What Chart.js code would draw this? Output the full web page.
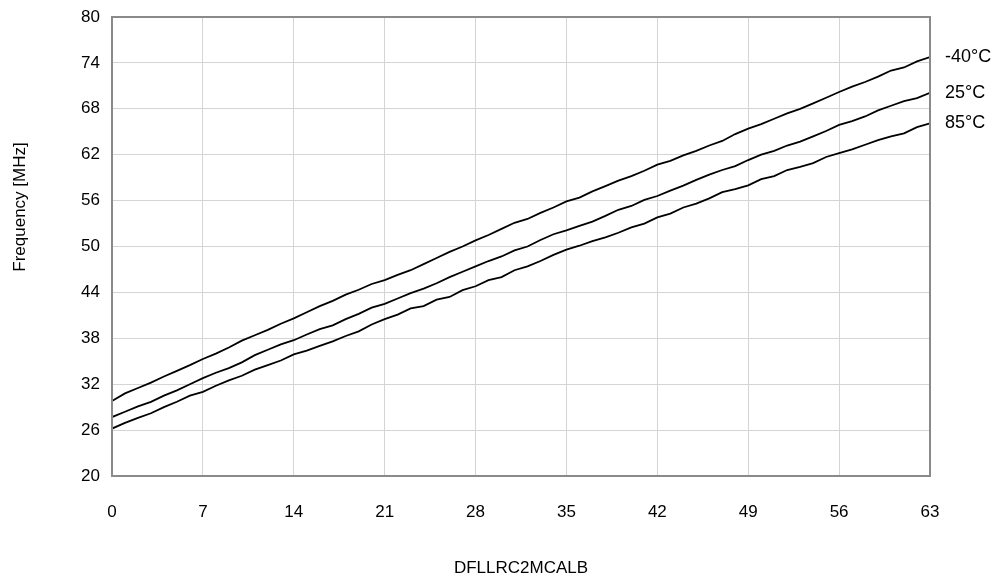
<!DOCTYPE html>
<html>
<head>
<meta charset="utf-8">
<script src="https://cdn.jsdelivr.net/npm/chart.js@4/dist/chart.umd.min.js"></script>
<style>
  html, body { margin: 0; padding: 0; background: #fff; }
  #wrap { width: 999px; height: 582px; }
</style>
</head>
<body>
<div id="wrap"><canvas id="myChart" width="999" height="582"></canvas></div>
<script>
// setup
const codes = [];
for (let i = 0; i <= 63; i++) codes.push(i);

const seriesNames = ["-40°C", "25°C", "85°C"];

const minus40 = [29.8, 30.8, 31.5, 32.2, 33.0, 33.75, 34.5, 35.3, 36.0, 36.8,
  37.7, 38.4, 39.1, 39.9, 40.6, 41.4, 42.2, 42.9, 43.7, 44.35,
  45.1, 45.6, 46.3, 46.9, 47.7, 48.5, 49.3, 50.0, 50.8, 51.5,
  52.3, 53.1, 53.6, 54.4, 55.1, 55.9, 56.4, 57.2, 57.9, 58.6,
  59.2, 59.9, 60.7, 61.2, 61.9, 62.5, 63.2, 63.8, 64.7, 65.4,
  66.0, 66.7, 67.4, 68.0, 68.7, 69.45, 70.2, 70.9, 71.5, 72.2,
  73.0, 73.4, 74.2, 74.75];

const plus25 = [27.7, 28.4, 29.1, 29.7, 30.5, 31.2, 32.0, 32.8, 33.5, 34.1,
  34.85, 35.8, 36.5, 37.2, 37.75, 38.5, 39.2, 39.7, 40.5, 41.2,
  42.0, 42.5, 43.2, 43.9, 44.5, 45.2, 46.0, 46.7, 47.4, 48.1,
  48.7, 49.5, 50.0, 50.85, 51.6, 52.1, 52.7, 53.25, 54.0, 54.8,
  55.3, 56.1, 56.6, 57.3, 57.95, 58.7, 59.4, 60.0, 60.5, 61.3,
  62.0, 62.5, 63.2, 63.7, 64.4, 65.1, 65.9, 66.4, 67.0, 67.8,
  68.4, 69.0, 69.4, 70.1];

const plus85 = [26.2, 26.95, 27.6, 28.2, 29.0, 29.7, 30.5, 31.0, 31.8, 32.5,
  33.1, 33.9, 34.5, 35.1, 35.9, 36.4, 37.0, 37.6, 38.3, 38.9,
  39.8, 40.5, 41.1, 41.9, 42.2, 43.05, 43.4, 44.3, 44.8, 45.6,
  46.0, 46.9, 47.4, 48.1, 48.9, 49.6, 50.1, 50.7, 51.2, 51.8,
  52.5, 53.0, 53.8, 54.3, 55.1, 55.6, 56.3, 57.1, 57.5, 58.0,
  58.8, 59.2, 60.0, 60.4, 60.9, 61.7, 62.2, 62.7, 63.3, 63.9,
  64.4, 64.8, 65.6, 66.1];

const yTicks = [20, 26, 32, 38, 44, 50, 56, 62, 68, 74, 80];
const xTicks = [0, 7, 14, 21, 28, 35, 42, 49, 56, 63];

const FONT = "'Liberation Sans', Arial, sans-serif";

const toPoints = (vals) => vals.map((v, i) => ({ x: codes[i], y: v }));

const data = {
  datasets: [minus40, plus25, plus85].map((vals, k) => ({
    label: seriesNames[k],
    data: toPoints(vals),
    borderColor: "#000",
    borderWidth: 1.8,
    pointRadius: 0,
    tension: 0,
  })),
};

// frame, end labels and axis titles
const decor = {
  id: "decor",
  afterDraw(chart) {
    const { ctx, chartArea: a } = chart;
    ctx.save();
    ctx.strokeStyle = "#8a8a8a";
    ctx.lineWidth = 2;
    ctx.strokeRect(a.left, a.top, a.right - a.left, a.bottom - a.top);

    ctx.fillStyle = "#000";
    ctx.font = "18px " + FONT;
    ctx.textBaseline = "middle";
    ctx.textAlign = "left";
    const ys = chart.scales.y;
    chart.data.datasets.forEach((ds) => {
      const last = ds.data[ds.data.length - 1];
      let py = ys.getPixelForValue(last.y);
      ctx.fillText(ds.label, a.right + 15, py);
    });

    ctx.font = "17px " + FONT;
    ctx.textAlign = "center";
    ctx.fillText("DFLLRC2MCALB", (a.left + a.right) / 2, 568);

    ctx.translate(20, 207);
    ctx.rotate(-Math.PI / 2);
    ctx.fillText("Frequency [MHz]", 0, 0);
    ctx.restore();
  },
};

// config
const config = {
  type: "line",
  data,
  plugins: [decor],
  options: {
    responsive: false,
    animation: false,
    layout: { padding: { top: 17, right: 69, left: 0, bottom: 0 } },
    plugins: {
      legend: { display: false },
      tooltip: { enabled: false },
    },
    scales: {
      x: {
        type: "linear",
        min: 0,
        max: 63,
        afterBuildTicks: (scale) => {
          scale.ticks = xTicks.map((v) => ({ value: v }));
        },
        afterFit: (scale) => {
          scale.height = 106;
          scale.paddingLeft = 0;
          scale.paddingRight = 0;
        },
        grid: { color: "#d4d4d4", lineWidth: 1, drawTicks: false },
        border: { display: false },
        ticks: {
          color: "#000",
          font: { family: FONT, size: 17 },
          padding: 26,
          maxRotation: 0,
        },
      },
      y: {
        min: 20,
        max: 80,
        afterBuildTicks: (scale) => {
          scale.ticks = yTicks.map((v) => ({ value: v }));
        },
        afterFit: (scale) => {
          scale.width = 112;
          scale.paddingTop = 0;
          scale.paddingBottom = 0;
        },
        grid: { color: "#d4d4d4", lineWidth: 1, drawTicks: false },
        border: { display: false },
        ticks: {
          color: "#000",
          font: { family: FONT, size: 17 },
          padding: 12,
        },
      },
    },
  },
};

// render init block
const myChart = new Chart(document.getElementById("myChart"), config);
</script>
</body>
</html>
